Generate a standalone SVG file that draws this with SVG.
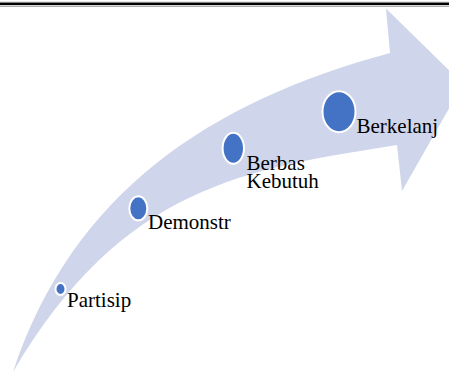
<svg xmlns="http://www.w3.org/2000/svg" width="449" height="372" viewBox="0 0 449 372">
<style>
.lbl{font-family:"Liberation Serif","Times New Roman",serif;font-size:21px;fill:#000}
.dot{fill:#4472C4;stroke:#fff;stroke-width:2}
</style>
<rect width="449" height="372" fill="#fff"/>
<g id="rule">
<rect x="0" y="2.5" width="449" height="2.6" fill="#000"/>
<rect x="0" y="1.8" width="449" height="0.7" fill="#888"/>
<rect x="0" y="5.8" width="449" height="1" fill="#999"/>
</g>
<g id="connectors">
<path id="arrow" fill="#CFD5EA" d="M13,372 C73,192 210,101.6 390,53 L386,8.5 L463,84 L402,191 L397,145 C247,169 123,185 13,372 Z"/>
</g>
<g id="node-partisip">
<ellipse class="dot" cx="60.5" cy="289" rx="5" ry="6"/>
<text class="lbl" x="67" y="307">Partisip</text>
</g>
<g id="node-demonstr">
<ellipse class="dot" cx="138.3" cy="208.3" rx="9" ry="12"/>
<text class="lbl" x="148" y="229">Demonstr</text>
</g>
<g id="node-berbas">
<ellipse class="dot" cx="233.3" cy="148.3" rx="10.7" ry="15.5"/>
<text class="lbl" x="246.5" y="169.5">Berbas</text>
<text class="lbl" x="246.5" y="188">Kebutuh</text>
</g>
<g id="node-berkelanj">
<ellipse class="dot" cx="339" cy="111.7" rx="16.5" ry="20.5"/>
<text class="lbl" x="356.5" y="133.3">Berkelanj</text>
</g>
</svg>
